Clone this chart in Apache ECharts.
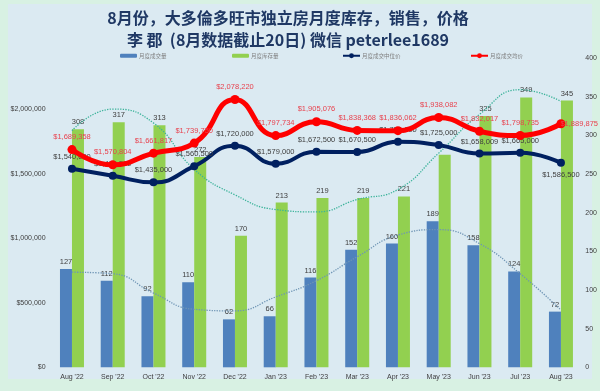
<!DOCTYPE html>
<html><head><meta charset="utf-8">
<script src="https://cdn.jsdelivr.net/npm/echarts@6/dist/echarts.min.js"></script>
<style>html,body{margin:0;padding:0;background:#d8f1e3}#c{width:600px;height:391px}</style>
</head><body><div id="c"></div>
<script>
const categories = ["Aug '22","Sep '22","Oct '22","Nov '22","Dec '22","Jan '23","Feb '23","Mar '23","Apr '23","May '23","Jun '23","Jul '23","Aug '23"];
const salesCount = [127,112,92,110,62,66,116,152,160,189,158,124,72];
const inventory = [308,317,313,272,170,213,219,219,221,275,325,349,345];
const medianPrice = [1540000,1486500,1435000,1560500,1720000,1579000,1672500,1670500,1750000,1725000,1658009,1665000,1586500];
const avgPrice = [1689358,1570804,1661817,1739750,2078220,1797734,1905076,1838368,1836062,1938082,1832017,1798735,1889875];
const salesTrend = [123,121,96,75,73,91,112,143,171,178,160,121,74];
const inventoryTrend = [306,334,316,256,223,204,201,217,230,277,327,359,344];
const leftTicks = [0,500000,1000000,1500000,2000000];
const rightTicks = [0,50,100,150,200,250,300,350,400];
const names = ['月度成交量','月度库存量','月度成交中位价','月度成交均价'];

const NUMF = "'Liberation Sans',Arial,sans-serif";
const CJK = "'Noto Sans CJK SC','Noto Sans',sans-serif";
const money = v => '$' + Number(v).toLocaleString('en-US');

const chart = echarts.init(document.getElementById('c'));
const legendX = [115, 227, 337, 465];
const option = {
  animation: false,
  backgroundColor: '#d8f1e3',
  graphic: [{type:'rect', z:-10, shape:{x:8,y:4,width:584,height:375}, style:{fill:'#dbeaf2'}}],
  title: {
    text: '8月份，大多倫多旺市独立房月度库存，销售，价格\n李 郡  (8月数据截止20日) 微信 peterlee1689',
    left: 283, top: 2, textAlign: 'center',
    textStyle: {fontFamily: CJK, fontSize: 16, fontWeight: 'bold', color: '#1f3864', lineHeight: 22}
  },
  legend: names.map((n, i) => ({
    data: [n], left: legendX[i], top: 48, itemWidth: 17, itemHeight: i < 2 ? 4 : 6, itemGap: 0,
    textStyle: {fontFamily: CJK, fontSize: 5.5, color: '#7f7f7f', padding: [0,0,0,-3]}
  })),
  grid: {left: 51.6, right: 18.6, top: 58, bottom: 23.7},
  xAxis: {
    type: 'category', data: categories,
    axisLine: {show: false}, axisTick: {show: false},
    axisLabel: {fontFamily: NUMF, fontSize: 7, color: '#404040', margin: 6}
  },
  yAxis: [
    {type: 'value', min: 0, max: 2400000, interval: 500000,
     splitLine: {show: false}, axisLine: {show: false}, axisTick: {show: false},
     axisLabel: {showMaxLabel: false, fontFamily: NUMF, fontSize: 7, color: '#404040', margin: 6,
       formatter: v => leftTicks.includes(v) ? money(v) : ''}},
    {type: 'value', min: 0, max: 400, interval: 50, position: 'right',
     splitLine: {show: false}, axisLine: {show: false}, axisTick: {show: false},
     axisLabel: {fontFamily: NUMF, fontSize: 7, color: '#404040', margin: 4, align: 'left',
       formatter: v => rightTicks.includes(v) ? String(v) : ''}}
  ],
  series: [
    {name: names[0], type: 'bar', yAxisIndex: 1, data: salesCount, barWidth: 12, barGap: '0%',
     itemStyle: {color: '#4f81bd'},
     label: {show: true, position: 'top', distance: 3, fontFamily: NUMF, fontSize: 7.5, color: '#404040'}},
    {name: names[1], type: 'bar', yAxisIndex: 1, barWidth: 12,
     data: inventory.map((v, i) => i === 9 ? {value: v, label: {show: false}} : v),
     itemStyle: {color: '#92d050'},
     label: {show: true, position: 'top', distance: 3, fontFamily: NUMF, fontSize: 7.5, color: '#404040'}},
    {name: 'salesTrend', type: 'line', yAxisIndex: 1, data: salesTrend, smooth: true, symbol: 'none',
     lineStyle: {type: 'dotted', width: 1.3, color: '#6f95b5'}, z: 3, silent: true},
    {name: 'inventoryTrend', type: 'line', yAxisIndex: 1, data: inventoryTrend, smooth: true, symbol: 'none',
     lineStyle: {type: 'dotted', width: 1.3, color: '#3bb39a'}, z: 3, silent: true},
    {name: names[2], type: 'line', yAxisIndex: 0, smooth: true, symbol: 'circle', symbolSize: 8,
     data: medianPrice.map((v, i) => i === 12 ? {value: v, label: {position: 'bottom', distance: 4}} : v),
     lineStyle: {width: 4, color: '#002060'}, itemStyle: {color: '#002060'}, z: 4,
     label: {show: true, position: 'top', distance: 4, fontFamily: NUMF, fontSize: 7.5, color: '#404040', formatter: p => money(p.value)}},
    {name: names[3], type: 'line', yAxisIndex: 0, smooth: true, symbol: 'circle', symbolSize: 9,
     data: avgPrice.map((v, i) => i === 12 ? {value: v, label: {position: 'right', distance: 0, offset: [-5, 0]}} : v),
     lineStyle: {width: 5, color: '#ff0000'}, itemStyle: {color: '#ff0000'}, z: 5,
     label: {show: true, position: 'top', distance: 4, fontFamily: NUMF, fontSize: 7.5, color: '#e8424e', formatter: p => money(p.value)}}
  ]
};
chart.setOption(option);
</script></body></html>
